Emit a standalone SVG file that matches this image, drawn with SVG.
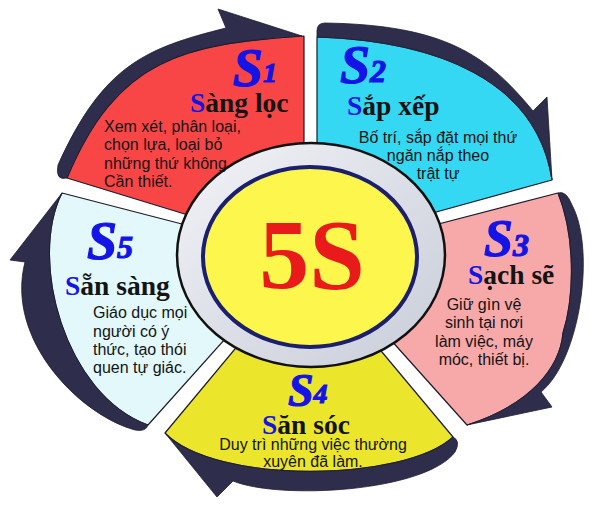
<svg xmlns="http://www.w3.org/2000/svg" width="600" height="506" viewBox="0 0 600 506">
<defs>
<style>
.seg{stroke:#1a1a2a;stroke-width:1.2;stroke-linejoin:round}
.band{fill:#2e2d4b;stroke:#1e1d33;stroke-width:0.8;stroke-linejoin:round}
.big{font-family:"Liberation Serif",serif;font-weight:bold;font-style:italic;fill:#1414e6;stroke:#1414e6;stroke-width:1.2}
.title{font-family:"Liberation Serif",serif;font-weight:bold;font-size:27.5px;fill:#141414}
.title .S{fill:#1414e6}
.desc{font-family:"Liberation Sans",Arial,sans-serif;font-size:16px;fill:#141414}
.mid{text-anchor:middle}
</style>
<linearGradient id="ringg" x1="0" y1="0" x2="1" y2="1">
<stop offset="0" stop-color="#f3f4f8"/>
<stop offset="0.5" stop-color="#dcdfe7"/>
<stop offset="1" stop-color="#c9cdd8"/>
</linearGradient>
</defs>
<rect width="600" height="506" fill="#ffffff"/>

<g id="segments">
<path id="seg-s1" class="seg" fill="#f84646" d="M304,234 L250,234 L67,178 C117,58 184,44 304,36 Z"/>
<path id="seg-s2" class="seg" fill="#35d8f2" d="M317,245 L317,37 C437,41 537,80 552,180 L400,222 Z"/>
<path id="seg-s3" class="seg" fill="#f7a8a8" d="M558,193 C575,235 575,295 563,333 C560,368 530,405 467,425 L355,300 L400,234 Z"/>
<path id="seg-s4" class="seg" fill="#ebe62c" d="M165,433 L270,307 L341,303 L453,437 C405,482 215,485 165,433 Z"/>
<path id="seg-s5" class="seg" fill="#e2f8fb" d="M148,425 C65,395 28,260 62,193 L240,239 L260,300 Z"/>
</g>

<g id="connectors">
<path id="arrow-s1-s2" class="band" d="M67,178 C117,58 184,44 302,36 L218,9 L226,28 C146,48 103,65 58,165 Q55,181 67,178 Z"/>
<path id="arrow-s2-s3" class="band" d="M317,37 C437,41 537,80 552,180 L547,97 L533,111 C487,55 445,25 325,23 Q317,23 317,31 Z"/>
<path id="arrow-s3-s4" class="band" d="M558,193 C575,235 575,295 563,333 C560,368 530,405 467,425 L552,407 L541,392 C580,360 596,250 572,205 Q566,190 558,193 Z"/>
<path id="arrow-s4-s5" class="band" d="M453,437 C405,482 215,485 165,433 L217,497 L233,481 C280,500 425,492 455,452 Q461,441 453,437 Z"/>
<path id="arrow-s5-s1" class="band" d="M148,425 C65,395 28,260 62,193 L10,260 L25,262 C5,340 80,415 135,430 Q146,432 148,425 Z"/>
</g>

<g id="center">
<ellipse cx="311" cy="255" rx="134" ry="112" fill="url(#ringg)" stroke="#111" stroke-width="2.5"/>
<ellipse cx="310" cy="257" rx="107" ry="90" fill="#fdf64c" stroke="#1c1f6e" stroke-width="4"/>
<text x="312" y="288" class="mid" font-family="Liberation Serif,serif" font-weight="bold" font-size="100" fill="#e81a1a">5S</text>
</g>

<g id="s1">
<text class="big" x="233" y="86" font-size="54">S<tspan font-size="28" dy="-4">1</tspan></text>
<text class="title" x="190" y="112"><tspan class="S">S</tspan>àng lọc</text>
<text class="desc" x="104" y="132">Xem xét, phân loại,</text>
<text class="desc" x="104" y="150">chọn lựa, loại bỏ</text>
<text class="desc" x="104" y="169">những thứ không</text>
<text class="desc" x="104" y="187">Cần thiết.</text>
</g>

<g id="s2">
<text class="big" x="340" y="83" font-size="54">S<tspan font-size="32" dy="-1">2</tspan></text>
<text class="title" x="347" y="115"><tspan class="S">S</tspan>ắp xếp</text>
<text class="desc mid" x="438" y="143">Bố trí, sắp đặt mọi thứ</text>
<text class="desc mid" x="438" y="161">ngăn nắp theo</text>
<text class="desc mid" x="438" y="179">trật tự</text>
</g>

<g id="s3">
<text class="big" x="484" y="256" font-size="52">S<tspan font-size="32">3</tspan></text>
<text class="title" x="468" y="284"><tspan class="S">S</tspan>ạch sẽ</text>
<text class="desc mid" x="484" y="310">Giữ gìn vệ</text>
<text class="desc mid" x="484" y="328">sinh tại nơi</text>
<text class="desc mid" x="484" y="347">làm việc, máy</text>
<text class="desc mid" x="484" y="365">móc, thiết bị.</text>
</g>

<g id="s4">
<text class="big" x="288" y="406" font-size="46">S<tspan font-size="28" dy="-3">4</tspan></text>
<text class="title" x="262" y="434"><tspan class="S">S</tspan>ăn sóc</text>
<text class="desc mid" x="313" y="450">Duy trì những việc thường</text>
<text class="desc mid" x="313" y="467">xuyên đã làm.</text>
</g>

<g id="s5">
<text class="big" x="87" y="259" font-size="54">S<tspan font-size="32" dy="-1">5</tspan></text>
<text class="title" x="65" y="295"><tspan class="S">S</tspan>ẵn sàng</text>
<text class="desc" x="93" y="318">Giáo dục mọi</text>
<text class="desc" x="93" y="337">người có ý</text>
<text class="desc" x="93" y="355">thức, tạo thói</text>
<text class="desc" x="93" y="373">quen tự giác.</text>
</g>
</svg>
